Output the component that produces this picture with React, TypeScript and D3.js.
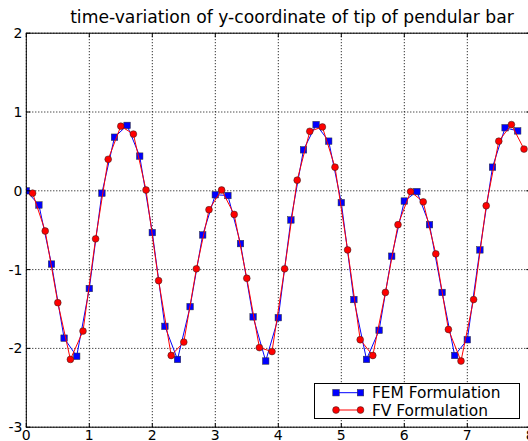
import React from "react";
import * as d3 from "d3";

const title = "time-variation of y-coordinate of tip of pendular bar";
const xTicks = [0, 1, 2, 3, 4, 5, 6, 7, 8];
const yTicks = [-3, -2, -1, 0, 1, 2];

const femT = [0, 0.2, 0.4, 0.6, 0.8, 1.0, 1.2, 1.4, 1.6, 1.8, 2.0, 2.2, 2.4, 2.6, 2.8, 3.0, 3.2, 3.4, 3.6, 3.8, 4.0, 4.2, 4.4, 4.6, 4.8, 5.0, 5.2, 5.4, 5.6, 5.8, 6.0, 6.2, 6.4, 6.6, 6.8, 7.0, 7.2, 7.4, 7.6, 7.8];
const femY = [0.0, -0.18, -0.93, -1.87, -2.1, -1.24, -0.03, 0.68, 0.83, 0.44, -0.53, -1.72, -2.14, -1.47, -0.56, -0.05, -0.06, -0.67, -1.6, -2.16, -1.61, -0.37, 0.52, 0.84, 0.63, -0.15, -1.38, -2.14, -1.77, -0.83, -0.13, -0.01, -0.43, -1.29, -2.09, -1.89, -0.75, 0.3, 0.8, 0.76];

const fvT = [0.1, 0.3, 0.5, 0.7, 0.9, 1.1, 1.3, 1.5, 1.7, 1.9, 2.1, 2.3, 2.5, 2.7, 2.9, 3.1, 3.3, 3.5, 3.7, 3.9, 4.1, 4.3, 4.5, 4.7, 4.9, 5.1, 5.3, 5.5, 5.7, 5.9, 6.1, 6.3, 6.5, 6.7, 6.9, 7.1, 7.3, 7.5, 7.7, 7.9];
const fvY = [-0.03, -0.51, -1.42, -2.14, -1.78, -0.61, 0.4, 0.82, 0.72, 0.01, -1.14, -2.09, -1.92, -0.99, -0.24, 0.01, -0.3, -1.11, -1.99, -2.04, -0.99, 0.135, 0.755, 0.81, 0.3, -0.75, -1.89, -2.09, -1.29, -0.43, -0.01, -0.14, -0.8, -1.76, -2.16, -1.38, -0.19, 0.63, 0.84, 0.53];

const seriesNames = ["FEM Formulation", "FV Formulation"];

const W = 528;
const H = 441;
const FONT = "'DejaVu Sans', sans-serif";

export default function App() {
  const x = d3.scaleLinear().domain([0, 8]).range([26.3, 530.3]);
  const y = d3.scaleLinear().domain([-3, 2]).range([427.2, 33.2]);
  const [x0, x1] = x.range();
  const [yb, yt] = y.range();

  const fem = femT.map((t, i) => [t, femY[i]] as [number, number]);
  const fv = fvT.map((t, i) => [t, fvY[i]] as [number, number]);
  const line = d3
    .line<[number, number]>()
    .x((d) => x(d[0]))
    .y((d) => y(d[1]));

  const sq = 6.5;
  const r = 3.4;

  return (
    <svg
      width={W}
      height={H}
      style={{ position: "absolute", left: 0, top: 0, background: "#fff" }}
    >
      <defs>
        <clipPath id="plotclip">
          <rect x={x0} y={yt} width={x1 - x0} height={yb - yt} />
        </clipPath>
      </defs>
      <rect x={0} y={0} width={W} height={H} fill="#fff" />
      <text
        x={292}
        y={22.5}
        textAnchor="middle"
        fontFamily={FONT}
        fontSize={17.2}
        fill="#000"
      >
        {title}
      </text>

      {/* grid */}
      {xTicks.map((t) => (
        <line
          key={"gx" + t}
          x1={x(t)}
          x2={x(t)}
          y1={yt}
          y2={yb}
          stroke="#000"
          strokeWidth={1}
          strokeDasharray="1,2"
        />
      ))}
      {yTicks.map((t) => (
        <line
          key={"gy" + t}
          x1={x0}
          x2={x1}
          y1={y(t)}
          y2={y(t)}
          stroke="#000"
          strokeWidth={1}
          strokeDasharray="1,2"
        />
      ))}

      <g clipPath="url(#plotclip)">
        <path d={line(fem) || ""} fill="none" stroke="#0000ff" strokeWidth={1} />
        {fem.map((d, i) => (
          <rect
            key={"fs" + i}
            x={x(d[0]) - sq / 2}
            y={y(d[1]) - sq / 2}
            width={sq}
            height={sq}
            fill="#0000ff"
            stroke="#333"
            strokeWidth={0.5}
          />
        ))}
        <path d={line(fv) || ""} fill="none" stroke="#ff0000" strokeWidth={1} />
        {fv.map((d, i) => (
          <circle
            key={"vc" + i}
            cx={x(d[0])}
            cy={y(d[1])}
            r={r}
            fill="#ff0000"
            stroke="#222"
            strokeWidth={0.5}
          />
        ))}
      </g>

      {/* frame */}
      <rect
        x={x0}
        y={yt}
        width={x1 - x0}
        height={yb - yt}
        fill="none"
        stroke="#000"
        strokeWidth={1}
      />

      {/* ticks (inward, all four sides) */}
      {xTicks.map((t) => (
        <g key={"xt" + t}>
          <line x1={x(t)} x2={x(t)} y1={yb} y2={yb - 4} stroke="#000" />
          <line x1={x(t)} x2={x(t)} y1={yt} y2={yt + 4} stroke="#000" />
          <text
            x={x(t)}
            y={440}
            textAnchor="middle"
            fontFamily={FONT}
            fontSize={14}
            fill="#000"
          >
            {t}
          </text>
        </g>
      ))}
      {yTicks.map((t) => (
        <g key={"yt" + t}>
          <line x1={x0} x2={x0 + 4} y1={y(t)} y2={y(t)} stroke="#000" />
          <line x1={x1} x2={x1 - 4} y1={y(t)} y2={y(t)} stroke="#000" />
          <text
            x={22.5}
            y={y(t)}
            dy="0.36em"
            textAnchor="end"
            fontFamily={FONT}
            fontSize={14}
            fill="#000"
          >
            {t}
          </text>
        </g>
      ))}

      {/* legend */}
      <g>
        <rect
          x={314.5}
          y={383.5}
          width={205}
          height={35}
          fill="#fff"
          stroke="#000"
          strokeWidth={1}
        />
        <line x1={336} x2={360.5} y1={392.7} y2={392.7} stroke="#0000ff" strokeWidth={1} />
        {[336, 360.5].map((lx, i) => (
          <rect
            key={"ls" + i}
            x={lx - sq / 2}
            y={392.7 - sq / 2}
            width={sq}
            height={sq}
            fill="#0000ff"
            stroke="#333"
            strokeWidth={0.5}
          />
        ))}
        <text x={372} y={392.7} dy="0.36em" fontFamily={FONT} fontSize={15.4} fill="#000">
          {seriesNames[0]}
        </text>
        <line x1={336} x2={360.5} y1={410} y2={410} stroke="#ff0000" strokeWidth={1} />
        {[336, 360.5].map((lx, i) => (
          <circle
            key={"lc" + i}
            cx={lx}
            cy={410}
            r={r}
            fill="#ff0000"
            stroke="#222"
            strokeWidth={0.5}
          />
        ))}
        <text x={372} y={410} dy="0.36em" fontFamily={FONT} fontSize={15.4} fill="#000">
          {seriesNames[1]}
        </text>
      </g>
    </svg>
  );
}
